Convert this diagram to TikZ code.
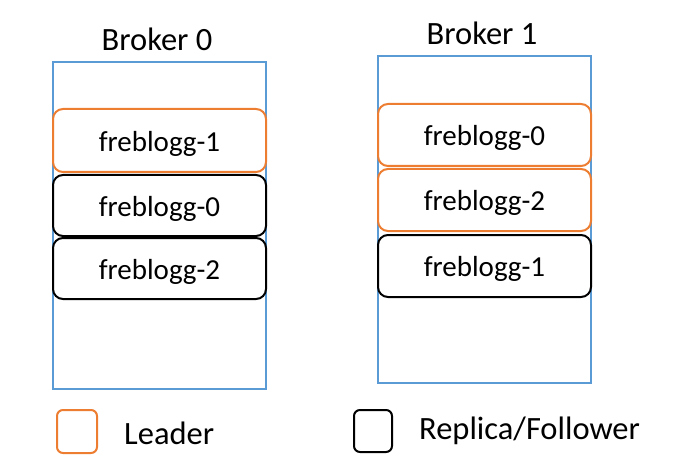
\documentclass[tikz,border=0pt]{standalone}
\usepackage{fontspec}
\setmainfont{Carlito}
\definecolor{officeorange}{HTML}{ED7D31}
\definecolor{officeblue}{HTML}{5B9BD5}
\begin{document}
\begin{tikzpicture}[x=1pt,y=-1pt,
  broker/.style={draw=officeblue,line width=2pt},
  part/.style={draw,rounded corners=10pt,line width=2pt,fill=white},
  leader/.style={part,draw=officeorange},
  follower/.style={part,draw=black},
  lbl/.style={font=\fontsize{29}{34}\selectfont,inner sep=0pt},
  big/.style={font=\fontsize{32.5}{38}\selectfont,inner sep=0pt}]
\useasboundingbox (0,0) rectangle (683,468);
% Broker 0
\draw[broker] (53,62) rectangle (266,389);
\node[big] (b0) at (157,39) {Broker 0};
\draw[leader] (53,109) rectangle (266,172);
\node[lbl] (b0p1) at (159.5,143.5) {freblogg-1};
\draw[follower] (53,175) rectangle (266,236);
\node[lbl] (b0p0) at (159.5,208.5) {freblogg-0};
\draw[follower] (53,238) rectangle (266,299);
\node[lbl] (b0p2) at (159.5,271.5) {freblogg-2};
% Broker 1
\draw[broker] (378,56) rectangle (591,383);
\node[big] (b1) at (482,33) {Broker 1};
\draw[leader] (378,104) rectangle (591,166);
\node[lbl] (b1p0) at (484.5,137.5) {freblogg-0};
\draw[leader] (378,169) rectangle (591,231);
\node[lbl] (b1p2) at (484.5,202.5) {freblogg-2};
\draw[follower] (378,235) rectangle (591,297);
\node[lbl] (b1p1) at (484.5,268.5) {freblogg-1};
% Legend
\draw[part,draw=officeorange,rounded corners=6pt] (57,410) rectangle (97,453);
\node[big,anchor=west] (leg1) at (124,433) {Leader};
\draw[part,draw=black,rounded corners=6pt] (354,410) rectangle (392,452);
\node[big,anchor=west] (leg2) at (419,431) {Replica/Follower};
\end{tikzpicture}
\end{document}
